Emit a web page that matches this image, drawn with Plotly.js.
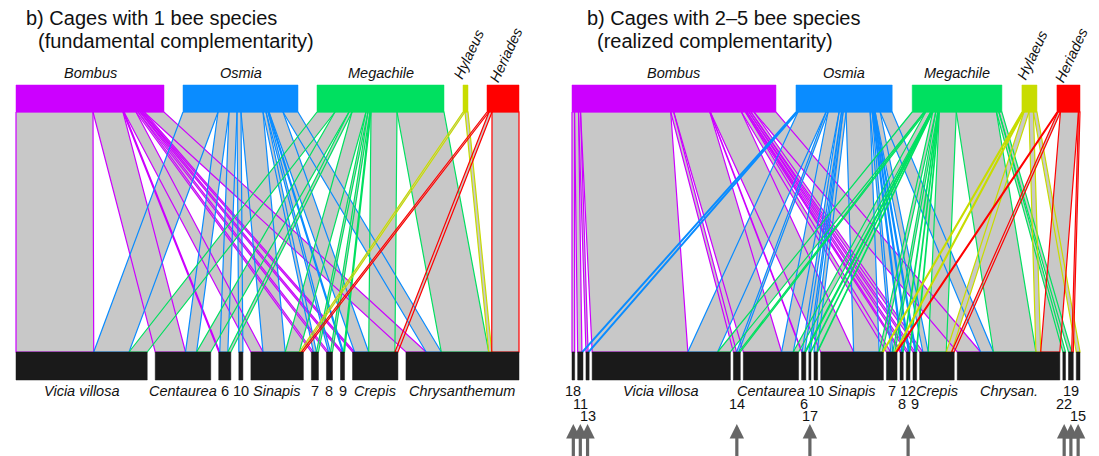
<!DOCTYPE html>
<html><head><meta charset="utf-8">
<script src="https://cdn.plot.ly/plotly-3.0.1.min.js"></script>
<style>html,body{margin:0;padding:0;background:#fff;}#chart{width:1099px;height:456px;}</style>
</head><body><div id="chart"></div>
<script>
// ---------------- DATA ----------------
const bees = ["Bombus", "Osmia", "Megachile", "Hylaeus", "Heriades"];

// Panel A: cages with 1 bee species
const plantsA = ["Vicia villosa", "Centaurea", "6", "10", "Sinapis", "7", "8", "9", "Crepis", "Chrysanthemum"];
const bombusA    = [77, 30, 1, 0, 12, 2, 2, 2, 2, 20];
const osmiaA     = [35, 11, 8, 4, 22, 3, 2, 1, 14, 15];
const megachileA = [18, 14, 3, 0, 14, 2, 2, 1, 26, 47];
const hylaeusA   = [0, 0, 0, 0, 2, 0, 0, 0, 0, 3];
const heriadesA  = [0, 0, 0, 0, 2, 0, 0, 0, 3, 27];

// Panel B: cages with 2-5 bee species
const plantsB = ["18", "11", "13", "Vicia villosa", "14", "Centaurea", "6", "17", "10", "Sinapis", "7", "8", "12", "9", "Crepis", "Chrysan.", "22", "19", "15"];
const bombusB    = [2.5, 4, 2, 90, 3, 36, 0.5, 0, 0, 31, 4, 1.5, 2, 2, 3, 22, 0, 0, 0];
const osmiaB     = [0, 1, 1, 28, 2, 11, 2.5, 1.5, 3, 24, 2, 1, 1, 1, 5, 12, 0, 0, 0];
const megachileB = [0, 0, 0, 12, 1.5, 5, 1, 0.5, 0.5, 3, 2, 0.5, 0.5, 0.5, 17, 40, 2.5, 3, 0];
const hylaeusB   = [0, 0, 0, 0, 0, 0, 0, 0, 0, 1, 1, 0, 0, 0, 5, 4.5, 0, 0, 3.5];
const heriadesB  = [0, 0, 0, 0, 0, 0, 0, 0, 0, 0, 1, 0, 0, 0, 2.5, 18, 0, 1.5, 0];

const arrowPlantsB = ["18", "11", "13", "14", "17", "12", "22", "19", "15"];
const titleA = ["b) Cages with 1 bee species", "(fundamental complementarity)"];
const titleB = ["b) Cages with 2\u20135 bee species", "(realized complementarity)"];

// ---------------- STYLE / LAYOUT ----------------
const beeColors = ["#cc00ff", "#0a8cff", "#00e060", "#c8dc00", "#ff0000"];
const linkGray = "#c8c8c8";
const plantColor = "#1a1a1a";
const FONT = "Liberation Sans, Arial, Helvetica, sans-serif";

const panels = [
  { plants: plantsA, matrix: [bombusA, osmiaA, megachileA, hylaeusA, heriadesA],
    x0: 16, x1: 519, topGap: 19, botGap: 8, title: titleA, tx: 24, tx2: 36,
    labelRows: plantsA.map(() => 0), arrows: [] },
  { plants: plantsB, matrix: [bombusB, osmiaB, megachileB, hylaeusB, heriadesB],
    x0: 572, x1: 1080, topGap: 20, botGap: 3, title: titleB, tx: 585, tx2: 595,
    labelRows: [0,1,2,0,1,0,1,2,0,0,0,1,0,1,0,0,1,0,2], arrows: arrowPlantsB }
];
const yTop0 = 85, yTop1 = 112, yBot0 = 352, yBot1 = 380;
const rowY = [391, 403.5, 416];

const traces = [];
const annotations = [];
const sum = a => a.reduce((s, v) => s + v, 0);

function rectPath(xa, xb, ya, yb, X, Y) {
  X.push(xa, xb, xb, xa, xa, null);
  Y.push(ya, ya, yb, yb, ya, null);
}

panels.forEach(P => {
  const nb = bees.length, np = P.plants.length, M = P.matrix;
  const beeTot = M.map(r => sum(r));
  const plantTot = P.plants.map((_, j) => sum(M.map(r => r[j])));
  const W = P.x1 - P.x0;
  const sT = (W - P.topGap * (nb - 1)) / sum(beeTot);
  const sB = (W - P.botGap * (np - 1)) / sum(plantTot);
  const beeX = [], plantX = [];
  let x = P.x0;
  beeTot.forEach(t => { beeX.push([x, x + t * sT]); x += t * sT + P.topGap; });
  x = P.x0;
  plantTot.forEach(t => { plantX.push([x, x + t * sB]); x += t * sB + P.botGap; });

  // links
  const topCur = beeX.map(v => v[0]);
  const botCur = plantX.map(v => v[0]);
  const fillX = [], fillY = [];
  const lineXY = bees.map(() => ({ x: [], y: [] }));
  for (let b = 0; b < nb; b++) {
    for (let p = 0; p < np; p++) {
      const v = M[b][p];
      if (!(v > 0)) continue;
      const t0 = topCur[b], t1 = t0 + v * sT; topCur[b] = t1;
      const b0 = botCur[p], b1 = b0 + v * sB; botCur[p] = b1;
      const px = [t0, t1, b1, b0, t0], py = [yTop1, yTop1, yBot0, yBot0, yTop1];
      fillX.push(...px, null); fillY.push(...py, null);
      lineXY[b].x.push(...px, null); lineXY[b].y.push(...py, null);
    }
  }
  traces.push({ type: "scatter", mode: "lines", x: fillX, y: fillY, fill: "toself",
    fillcolor: linkGray, line: { width: 0, color: "rgba(0,0,0,0)" }, hoverinfo: "skip" });
  lineXY.forEach((L, b) => {
    traces.push({ type: "scatter", mode: "lines", x: L.x, y: L.y,
      line: { width: 1.2, color: beeColors[b] }, hoverinfo: "skip" });
  });

  // top bars
  beeX.forEach((bx, b) => {
    const X = [], Y = [];
    rectPath(bx[0], bx[1], yTop0, yTop1, X, Y);
    traces.push({ type: "scatter", mode: "lines", x: X, y: Y, fill: "toself",
      fillcolor: beeColors[b], line: { width: 0.5, color: beeColors[b] }, hoverinfo: "skip" });
  });
  // bottom bars
  const BX = [], BY = [];
  plantX.forEach(px => rectPath(px[0], px[1], yBot0, yBot1, BX, BY));
  traces.push({ type: "scatter", mode: "lines", x: BX, y: BY, fill: "toself",
    fillcolor: plantColor, line: { width: 0.5, color: plantColor }, hoverinfo: "skip" });

  // bee labels
  beeX.forEach((bx, b) => {
    const c = (bx[0] + bx[1]) / 2;
    const rot = (bx[1] - bx[0]) < 40;
    annotations.push({ x: rot ? c + 3 : c, y: rot ? 55 : 72.5, xref: "x", yref: "y",
      text: "<i>" + bees[b] + "</i>", showarrow: false, textangle: rot ? -65 : 0,
      xanchor: "center", yanchor: "middle", font: { family: FONT, size: 14.5, color: "#111" } });
  });
  // plant labels
  plantX.forEach((px, j) => {
    const c = (px[0] + px[1]) / 2;
    const name = P.plants[j];
    const isNum = /^\d+$/.test(name);
    annotations.push({ x: c, y: rowY[P.labelRows[j]], xref: "x", yref: "y",
      text: isNum ? name : "<i>" + name + "</i>", showarrow: false,
      xanchor: "center", yanchor: "middle", font: { family: FONT, size: 14.5, color: "#111" } });
  });
  // arrows
  P.arrows.forEach(name => {
    const j = P.plants.indexOf(name);
    const c = (plantX[j][0] + plantX[j][1]) / 2;
    annotations.push({ x: c, y: 424, ax: c, ay: 470, xref: "x", yref: "y", axref: "x", ayref: "y",
      text: "", showarrow: true, arrowhead: 2, arrowsize: 0.9, arrowwidth: 3.2, arrowcolor: "#666" });
  });
  // titles
  annotations.push({ x: P.tx, y: 18, xref: "x", yref: "y", text: P.title[0], showarrow: false,
    xanchor: "left", yanchor: "middle", font: { family: FONT, size: 20, color: "#111" } });
  annotations.push({ x: P.tx2, y: 41, xref: "x", yref: "y", text: P.title[1], showarrow: false,
    xanchor: "left", yanchor: "middle", font: { family: FONT, size: 20, color: "#111" } });
});

const layout = {
  width: 1099, height: 456,
  margin: { l: 0, r: 0, t: 0, b: 0 },
  paper_bgcolor: "#fff", plot_bgcolor: "#fff",
  showlegend: false,
  xaxis: { range: [0, 1099], visible: false, fixedrange: true },
  yaxis: { range: [456, 0], visible: false, fixedrange: true },
  annotations: annotations
};
Plotly.newPlot("chart", traces, layout, { staticPlot: true, displayModeBar: false });
</script>
</body></html>
